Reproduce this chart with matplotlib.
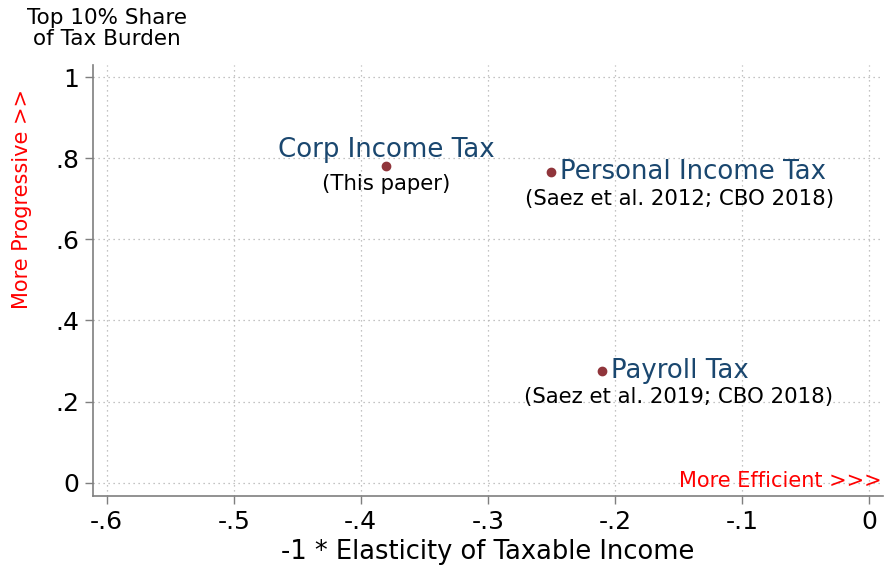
import matplotlib
matplotlib.use('Agg')
import matplotlib.pyplot as plt
import numpy as np

# data
taxes = ["Corp Income Tax", "Personal Income Tax", "Payroll Tax"]
sources = ["(This paper)", "(Saez et al. 2012; CBO 2018)", "(Saez et al. 2019; CBO 2018)"]
elasticity = [-0.38, -0.25, -0.21]
top10_share = [0.78, 0.765, 0.276]

x_ticks = [-0.6, -0.5, -0.4, -0.3, -0.2, -0.1, 0]
x_tick_labels = ["-.6", "-.5", "-.4", "-.3", "-.2", "-.1", "0"]
y_ticks = [0, 0.2, 0.4, 0.6, 0.8, 1]
y_tick_labels = ["0", ".2", ".4", ".6", ".8", "1"]

blue = "#1a476f"
maroon = "#90353b"
gray = "#7f7f7f"

fig = plt.figure(figsize=(8.85, 5.7), dpi=100)
ax = fig.add_axes([93.3 / 885, 1 - 496 / 570, (883 - 93.3) / 885, (496 - 65) / 570])

ax.plot(elasticity, top10_share, 'o', color=maroon, markersize=6, zorder=3)

# label placement (offsets in points from each dot)
main_off = [(0, 11.5, 'center'), (6, 0, 'left'), (6, 0, 'left')]
sub_off = [(0, -13), (92, -19), (55, -19)]
for i in range(len(taxes)):
    dx, dy, ha = main_off[i]
    ax.annotate(taxes[i], (elasticity[i], top10_share[i]), xytext=(dx, dy),
                textcoords='offset points', ha=ha, va='center', color=blue, fontsize=18.7)
    sx, sy = sub_off[i]
    ax.annotate(sources[i], (elasticity[i], top10_share[i]), xytext=(sx, sy),
                textcoords='offset points', ha='center', va='center', color='black', fontsize=15.3)

ax.set_xlim(-0.6105, 0.011)
ax.set_ylim(-0.033, 1.030)
ax.set_xticks(x_ticks)
ax.set_xticklabels(x_tick_labels, fontsize=18)
ax.set_yticks(y_ticks)
ax.set_yticklabels(y_tick_labels, fontsize=18)
ax.tick_params(direction='out', length=6, color=gray, width=1, pad=4)
ax.grid(True, linestyle=(0, (1, 3)), color='#b0b0b0', linewidth=0.9)
ax.set_axisbelow(True)
for s in ['top', 'right']:
    ax.spines[s].set_visible(False)
for s in ['left', 'bottom']:
    ax.spines[s].set_color(gray)
    ax.spines[s].set_linewidth(1.2)

ax.set_xlabel("-1 * Elasticity of Taxable Income", fontsize=18.5, labelpad=4)
ax.annotate("More Efficient >>>", xy=(1, 0), xycoords=('axes fraction', 'data'),
            xytext=(-1, 1.5), textcoords='offset points', ha='right', va='center',
            color='red', fontsize=15)

fig.text(107 / 885, 1 - 8 / 570, "Top 10% Share\nof Tax Burden", ha='center', va='top',
         fontsize=15.5, linespacing=1.05)
fig.text(22 / 885, 1 - 199 / 570, "More Progressive >>", rotation=90, ha='center',
         va='center', color='red', fontsize=15)

fig.savefig("out.png", dpi=100, facecolor='white')
